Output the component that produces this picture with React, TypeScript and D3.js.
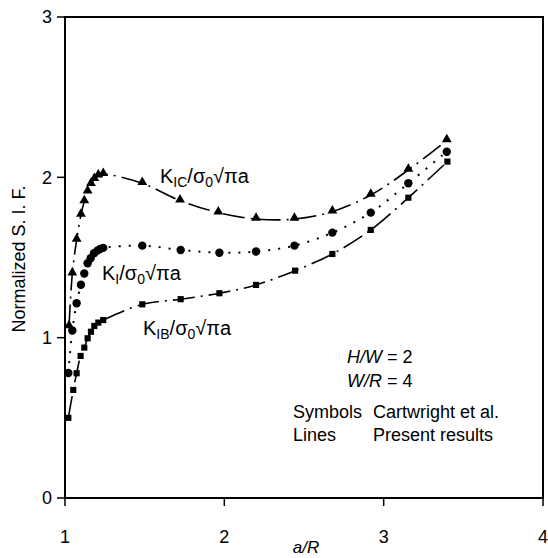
import React from "react";
import * as d3 from "d3";

const xTicks = [1, 2, 3, 4];
const yTicks = [0, 1, 2, 3];

const aR_IC = [1.025, 1.046, 1.073, 1.1, 1.121, 1.142, 1.163, 1.184, 1.209, 1.24, 1.485, 1.722, 1.962, 2.199, 2.44, 2.678, 2.919, 3.155, 3.396];
const K_IC = [1.07, 1.4, 1.61, 1.765, 1.85, 1.91, 1.957, 1.988, 2.01, 2.02, 1.963, 1.855, 1.78, 1.74, 1.74, 1.786, 1.89, 2.046, 2.23];

const aR_I = [1.021, 1.046, 1.073, 1.1, 1.121, 1.142, 1.161, 1.182, 1.203, 1.22, 1.24, 1.485, 1.726, 1.969, 2.199, 2.44, 2.678, 2.919, 3.155, 3.396];
const K_I = [0.78, 1.045, 1.215, 1.33, 1.4, 1.464, 1.495, 1.527, 1.543, 1.553, 1.56, 1.574, 1.547, 1.53, 1.537, 1.574, 1.655, 1.78, 1.963, 2.16];

const aR_IB = [1.021, 1.052, 1.073, 1.098, 1.121, 1.142, 1.163, 1.184, 1.209, 1.24, 1.485, 1.726, 1.969, 2.199, 2.444, 2.678, 2.919, 3.155, 3.4];
const K_IB = [0.5, 0.674, 0.778, 0.886, 0.938, 0.996, 1.037, 1.073, 1.094, 1.11, 1.208, 1.24, 1.277, 1.329, 1.418, 1.522, 1.672, 1.873, 2.098];

const FONT = "'Liberation Sans', Arial, Helvetica, sans-serif";

export default function App() {
  const x = d3.scaleLinear().domain([1, 4]).range([65, 543]);
  const y = d3.scaleLinear().domain([0, 3]).range([498, 17]);
  const curve = d3
    .line<[number, number]>()
    .x((d) => x(d[0]))
    .y((d) => y(d[1]))
    .curve(d3.curveCatmullRom.alpha(0.5));

  const zip = (a: number[], b: number[]) => a.map((v, i) => [v, b[i]] as [number, number]);
  const ic = zip(aR_IC, K_IC);
  const ki = zip(aR_I, K_I);
  const ib = zip(aR_IB, K_IB);

  const tri = d3.symbol().type(d3.symbolTriangle).size(42)() as string;
  const sq = d3.symbol().type(d3.symbolSquare).size(38)() as string;

  const x0 = x(1), x1 = x(4), yb = y(0), yt = y(3);
  const w = 2;

  return (
    <svg
      width={548}
      height={558}
      viewBox="0 0 548 558"
      style={{ position: "absolute", left: 0, top: 0, display: "block" }}
      fontFamily={FONT}
    >
      <rect x={0} y={0} width={548} height={558} fill="#fff" />
      <g className="frame" fill="#000">
        <rect x={x0 - w / 2} y={yt - w / 2} width={x1 - x0 + w} height={w} />
        <rect x={x0 - w / 2} y={yb - w / 2} width={x1 - x0 + w} height={w} />
        <rect x={x0 - w / 2} y={yt - w / 2} width={w} height={yb - yt + w} />
        <rect x={x1 - w / 2} y={yt - w / 2} width={w} height={yb - yt + w} />
        {yTicks.map((t) => (
          <rect key={"yt" + t} x={x0 - 8} y={y(t) - 0.75} width={8} height={1.5} />
        ))}
        {xTicks.map((t) => (
          <rect key={"xt" + t} x={x(t) - 0.75} y={yb} width={1.5} height={8} />
        ))}
      </g>
      {yTicks.map((t) => (
        <text key={"y" + t} x={52} y={y(t)} dy="0.36em" textAnchor="end" fontSize={18}>
          {t}
        </text>
      ))}
      {xTicks.map((t) => (
        <text key={"x" + t} x={x(t)} y={543} textAnchor="middle" fontSize={18}>
          {t}
        </text>
      ))}
      <text x={306} y={553} textAnchor="middle" fontSize={17} fontStyle="italic">
        a/R
      </text>
      <text transform={`translate(25,259) rotate(-90)`} textAnchor="middle" fontSize={18}>
        Normalized S. I. F.
      </text>

      {/* lines */}
      <path d={curve(ic) || ""} fill="none" stroke="black" strokeWidth={1.6} strokeDasharray="22,6,2,6" />
      <path d={curve(ki) || ""} fill="none" stroke="black" strokeWidth={2} strokeDasharray="2,8" />
      <path d={curve(ib) || ""} fill="none" stroke="black" strokeWidth={1.6} strokeDasharray="22,6,2,6" />

      {/* markers */}
      {ic.map((d, i) => (
        <path key={"t" + i} d={tri} transform={`translate(${x(d[0])},${y(d[1]) - 1})`} fill="black" />
      ))}
      {ki.map((d, i) => (
        <circle key={"c" + i} cx={x(d[0])} cy={y(d[1])} r={4.2} fill="black" />
      ))}
      {ib.map((d, i) => (
        <path key={"s" + i} d={sq} transform={`translate(${x(d[0])},${y(d[1])})`} fill="black" />
      ))}

      {/* curve labels */}
      <text x={160} y={183} fontSize={20}>
        K<tspan fontSize={14} dy={4}>IC</tspan>
        <tspan dy={-4}>/σ</tspan>
        <tspan fontSize={14} dy={4}>0</tspan>
        <tspan dy={-4}>√πa</tspan>
      </text>
      <text x={102} y={280} fontSize={20}>
        K<tspan fontSize={14} dy={4}>I</tspan>
        <tspan dy={-4}>/σ</tspan>
        <tspan fontSize={14} dy={4}>0</tspan>
        <tspan dy={-4}>√πa</tspan>
      </text>
      <text x={143} y={335} fontSize={20}>
        K<tspan fontSize={14} dy={4}>IB</tspan>
        <tspan dy={-4}>/σ</tspan>
        <tspan fontSize={14} dy={4}>0</tspan>
        <tspan dy={-4}>√πa</tspan>
      </text>

      {/* notes */}
      <text x={347} y={363} fontSize={18}>
        <tspan fontStyle="italic">H/W</tspan> = 2
      </text>
      <text x={347} y={387} fontSize={18}>
        <tspan fontStyle="italic">W/R</tspan> = 4
      </text>
      <text x={293} y={418} fontSize={18}>Symbols</text>
      <text x={373} y={418} fontSize={18}>Cartwright et al.</text>
      <text x={293} y={441} fontSize={18}>Lines</text>
      <text x={373} y={441} fontSize={18}>Present results</text>
    </svg>
  );
}
